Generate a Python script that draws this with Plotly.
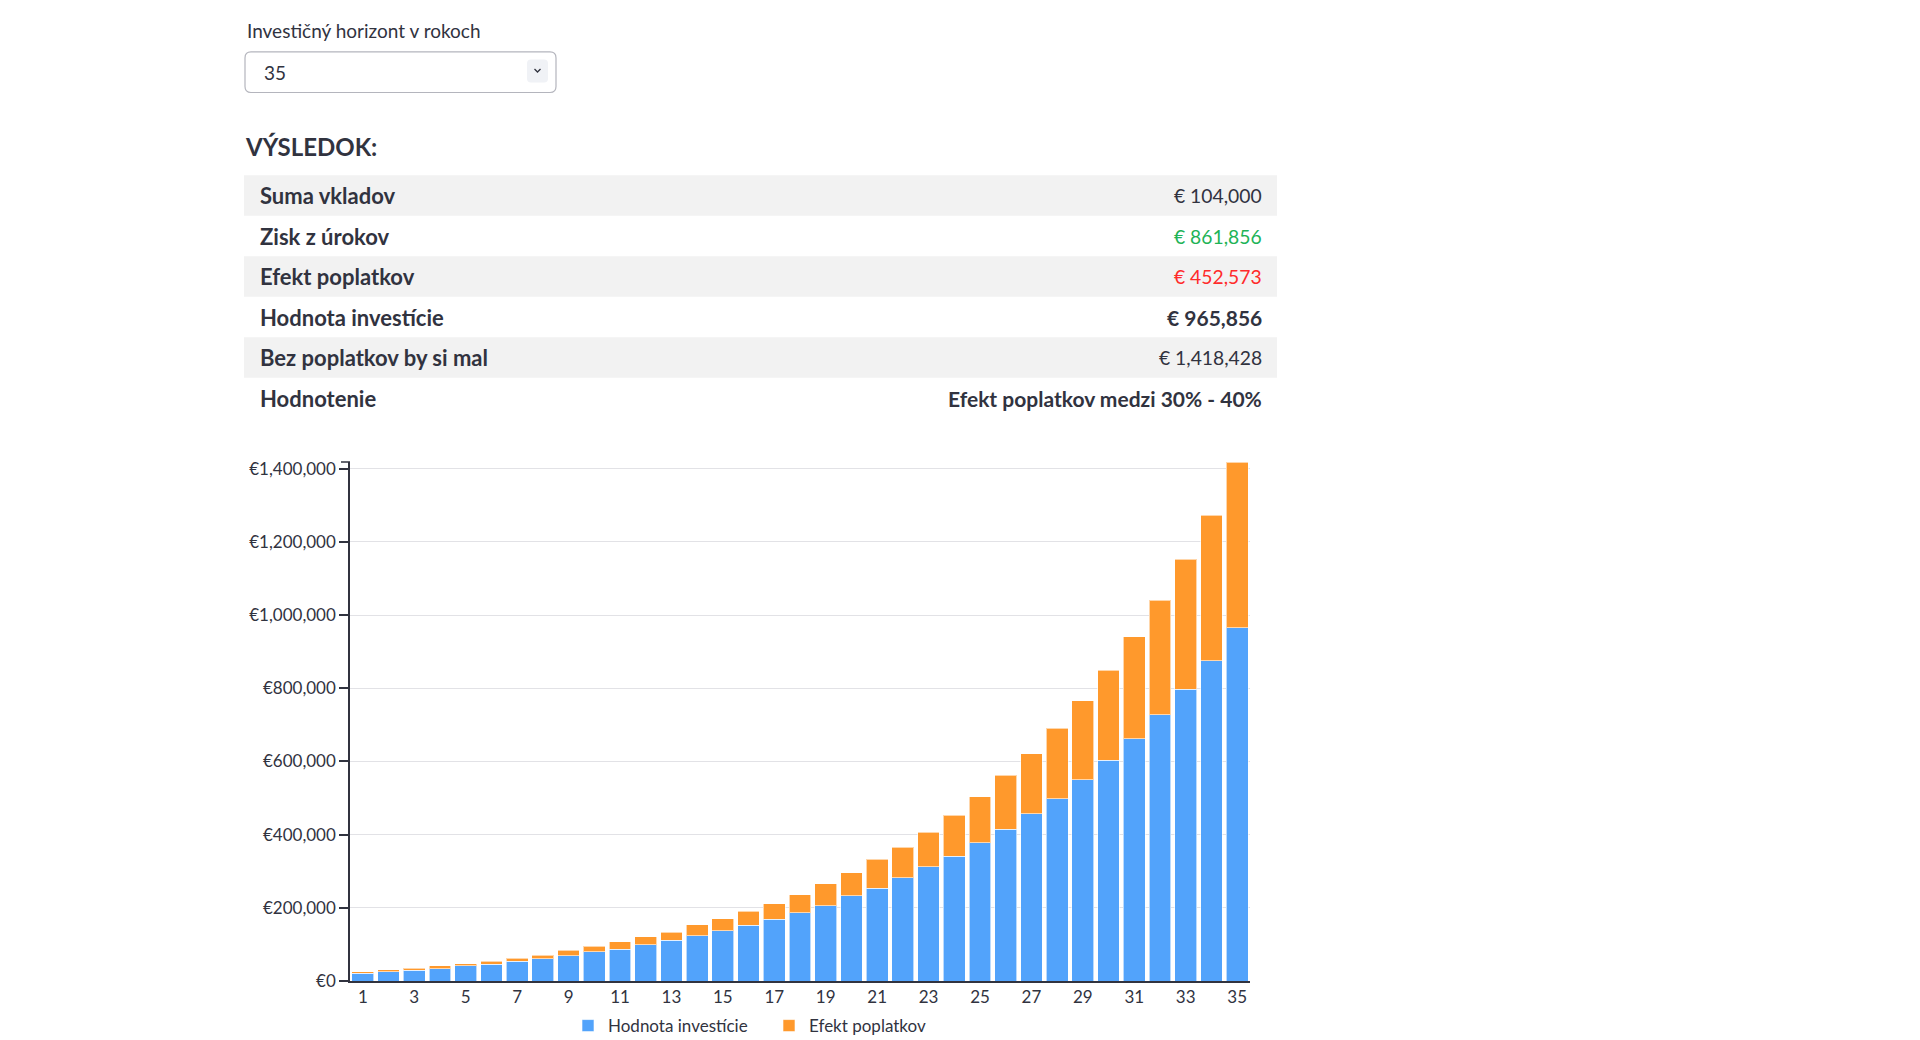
import plotly.graph_objects as go

# roky investicneho horizontu
years = list(range(1, 36))

# hodnota investicie po poplatkoch (odcitane z grafu)
hodnota = [20800, 25300, 29000, 33500, 41600, 45300, 54300, 61500, 69700, 79600,
           86900, 98600, 111300, 124000, 136700, 153000, 169200, 186400, 206300, 232800,
           253300, 282000, 311800, 341500, 378400, 415400, 457400, 498400, 549700, 603000,
           661500, 727200, 797900, 874800, 965856]

# hodnota bez poplatkov (vrch stlpca)
bez_poplatkov = [25300, 30800, 34400, 41600, 47000, 54300, 62400, 70600, 84200, 95000,
                 107700, 120400, 133000, 153900, 170100, 190000, 211800, 236200, 265200, 295400,
                 333300, 366000, 407000, 453300, 503600, 562000, 620500, 690200, 766100, 849200,
                 940500, 1040000, 1152800, 1272800, 1418428]

efekt = [b - h for b, h in zip(bez_poplatkov, hodnota)]

# tabulka vysledkov
row_labels = ["Suma vkladov", "Zisk z úrokov", "Efekt poplatkov", "Hodnota investície",
              "Bez poplatkov by si mal", "Hodnotenie"]
row_values = ["€ 104,000", "€ 861,856", "€ 452,573", "<b>€ 965,856</b>", "€ 1,418,428",
              "<b>Efekt poplatkov medzi 30% - 40%</b>"]
row_colors = ["#31333F", "#21b356", "#ff2b2b", "#31333F", "#31333F", "#31333F"]

y_ticks = [0, 200000, 400000, 600000, 800000, 1000000, 1200000, 1400000]
y_labels = ["€0", "€200,000", "€400,000", "€600,000", "€800,000", "€1,000,000",
            "€1,200,000", "€1,400,000"]

FONT = "Source Sans Pro, Lato, sans-serif"
TXT = "#31333F"

# plot area in page pixels
L, R, T, B = 350, 1250, 462.3, 981
PW, PH = R - L, B - T


def px(x):
    return (x - L) / PW


def py(y):
    return (B - y) / PH


def rrect(x0, y0, x1, y1, r):
    rx, ry = r / PW, r / PH
    a0, a1 = px(x0), px(x1)
    b0, b1 = py(y0), py(y1)  # b0 top, b1 bottom
    return (f"M{a0+rx},{b0} L{a1-rx},{b0} Q{a1},{b0} {a1},{b0-ry} "
            f"L{a1},{b1+ry} Q{a1},{b1} {a1-rx},{b1} L{a0+rx},{b1} "
            f"Q{a0},{b1} {a0},{b1+ry} L{a0},{b0-ry} Q{a0},{b0} {a0+rx},{b0} Z")


fig = go.Figure()
fig.add_trace(go.Bar(x=years, y=hodnota, name="Hodnota investície",
                     marker=dict(color="#52a3fb", line=dict(color="rgba(255,255,255,0.6)", width=1))))
fig.add_trace(go.Bar(x=years, y=efekt, name="Efekt poplatkov",
                     marker=dict(color="#ff992c", line=dict(color="rgba(255,255,255,0.6)", width=1))))

shapes = []
annots = []

# selectbox
annots.append(dict(x=px(245), y=py(31), text="Investičný horizont v rokoch", xanchor="left",
                   yanchor="middle", font=dict(size=19, color=TXT, family=FONT)))
shapes.append(dict(type="path", path=rrect(245, 52.5, 556, 93, 6), xref="paper", yref="paper",
                   line=dict(color="#b4b5bd", width=1.2), fillcolor="white", layer="above"))
shapes.append(dict(type="path", path=rrect(527, 60, 548, 83, 4), xref="paper", yref="paper",
                   line=dict(width=0), fillcolor="#f0f2f6", layer="above"))
shapes.append(dict(type="path", xref="paper", yref="paper", layer="above",
                   path=f"M{px(534.5)},{py(69.5)} L{px(537.5)},{py(72.5)} L{px(540.5)},{py(69.5)}",
                   line=dict(color=TXT, width=1.3)))
annots.append(dict(x=px(262), y=py(73), text="35", xanchor="left", yanchor="middle",
                   font=dict(size=19, color=TXT, family=FONT)))

# nadpis
annots.append(dict(x=px(243), y=py(147), text="<b>VÝSLEDOK:</b>", xanchor="left", yanchor="middle",
                   font=dict(size=24, color=TXT, family=FONT)))

# tabulka
top, rh = 175.7, 40.5
for i, (lab, val, col) in enumerate(zip(row_labels, row_values, row_colors)):
    y0 = top + i * rh
    if i % 2 == 0:
        shapes.append(dict(type="rect", xref="paper", yref="paper", x0=px(244), x1=px(1277),
                           y0=py(y0), y1=py(y0 + rh), fillcolor="#f2f2f2", line=dict(width=0),
                           layer="below"))
    annots.append(dict(x=px(258), y=py(y0 + rh / 2), text=f"<b>{lab}</b>", xanchor="left",
                       yanchor="middle", font=dict(size=22, color=TXT, family=FONT)))
    vsize = 21 if val.startswith("<b>") else 19.3
    annots.append(dict(x=px(1264), y=py(y0 + rh / 2), text=val, xanchor="right",
                       yanchor="middle", font=dict(size=vsize, color=col, family=FONT)))

# maly tick na vrchu osi
shapes.append(dict(type="line", xref="paper", yref="paper", x0=px(341), x1=px(350),
                   y0=1, y1=1, line=dict(color=TXT, width=1.5)))

for a in annots:
    a.update(xref="paper", yref="paper", showarrow=False)

fig.update_layout(
    width=1920, height=1040, autosize=False,
    margin=dict(l=L, r=1920 - R, t=T, b=1040 - B, pad=0, autoexpand=False),
    paper_bgcolor="white", plot_bgcolor="white",
    barmode="stack", bargap=0.155,
    font=dict(family=FONT, color=TXT, size=17),
    shapes=shapes, annotations=annots,
    legend=dict(orientation="h", traceorder="normal", x=px(568), xanchor="left", y=py(1026),
                yanchor="middle", font=dict(size=17, color=TXT), entrywidth=156,
                entrywidthmode="pixels", bgcolor="rgba(0,0,0,0)"),
    xaxis=dict(range=[0.5, 35.5], tickvals=years[::2], showline=True, linecolor="#31333F",
               linewidth=1.5, showgrid=False, ticks="", zeroline=False,
               tickfont=dict(size=17, color=TXT), fixedrange=True),
    yaxis=dict(range=[0, max(bez_poplatkov)], tickvals=y_ticks, ticktext=y_labels,
               showline=True, linecolor="#31333F", linewidth=1.5, ticks="outside", ticklen=9,
               tickcolor="#31333F", tickwidth=1.5, gridcolor="#e2e2e6", gridwidth=1,
               zeroline=False, tickfont=dict(size=17, color=TXT), fixedrange=True),
)

fig.write_html("out.html", config={"displayModeBar": False, "responsive": False},
               post_script="document.body.style.margin='0';")
